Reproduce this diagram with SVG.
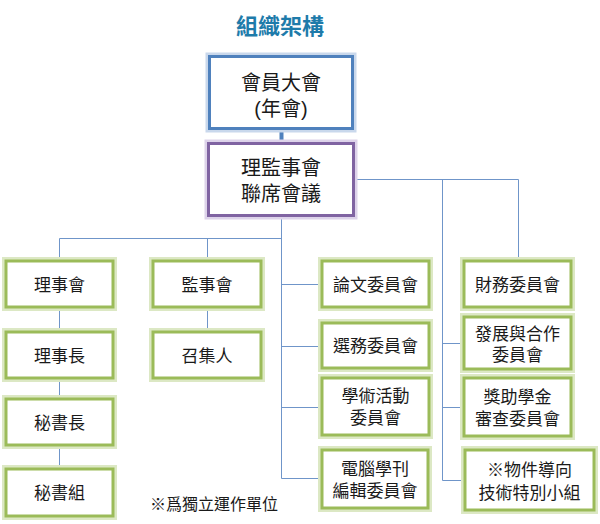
<svg xmlns="http://www.w3.org/2000/svg" width="600" height="524" viewBox="0 0 600 524">
<style>
.t{font-family:"Liberation Sans","Noto Sans CJK TC",sans-serif;fill:#1a1a1a;text-anchor:middle}
.g{font-size:17px}
.big{font-size:20px}
.box{fill:#fff;stroke-width:3}
.gb{stroke:#9BBB59}
.gh{fill:none;stroke:#dce8c4;stroke-width:3}
.conn{fill:none;stroke:#6F95C9;stroke-width:1}
</style>
<rect width="600" height="524" fill="#fff"/>
<text x="280" y="34" style="font-family:'Liberation Sans','Noto Sans CJK TC',sans-serif;font-size:22px;font-weight:bold;fill:#1E7BAA;text-anchor:middle">組織架構</text>
<g id="connectors">
<line x1="281.5" y1="129" x2="281.5" y2="143" stroke="#4F81BD" stroke-width="4"/>
<path class="conn" d="M281.5 216 V478.5 M59.5 238.5 H281.5 M59.5 238.5 V261 M59.5 307 V332 M59.5 378 V399 M59.5 445 V469 M207.5 238.5 V261 M207.5 307 V332 M281.5 284.5 H322 M281.5 346.5 H322 M281.5 407.5 H322 M281.5 478.5 H322 M354 179.5 H518.5 V261 M442.5 179.5 V480.5 M442.5 343.5 H464 M442.5 407.5 H464 M442.5 480.5 H465"/>
</g>
<g id="n-general">
<rect x="207" y="54" width="148" height="77" fill="none" stroke="#c9d8ec" stroke-width="3"/>
<rect class="box" x="209.5" y="56.5" width="143" height="72" stroke="#4F81BD"/>
<text class="t big" x="281" y="90">會員大會</text>
<text class="t big" x="281" y="116">(年會)</text>
</g>
<g id="n-joint">
<rect x="206" y="141" width="150" height="77" fill="none" stroke="#ddd3ea" stroke-width="3"/>
<rect class="box" x="208.5" y="143.5" width="145" height="72" stroke="#8064A2"/>
<text class="t big" x="281" y="175">理監事會</text>
<text class="t big" x="281" y="201">聯席會議</text>
</g>
<g id="n-board">
<rect class="gh" x="3.5" y="258.5" width="112" height="51"/>
<rect class="box gb" x="6" y="261" width="107" height="46"/>
<text class="t g" x="59.5" y="291">理事會</text>
</g>
<g id="n-chair">
<rect class="gh" x="3.5" y="329.5" width="112" height="51"/>
<rect class="box gb" x="6" y="332" width="107" height="46"/>
<text class="t g" x="59.5" y="362">理事長</text>
</g>
<g id="n-secgen">
<rect class="gh" x="3.5" y="396.5" width="112" height="51"/>
<rect class="box gb" x="6" y="399" width="107" height="46"/>
<text class="t g" x="59.5" y="429">秘書長</text>
</g>
<g id="n-secgroup">
<rect class="gh" x="3.5" y="466.5" width="112" height="52"/>
<rect class="box gb" x="6" y="469" width="107" height="47"/>
<text class="t g" x="59.5" y="499">秘書組</text>
</g>
<g id="n-supervisors">
<rect class="gh" x="150.5" y="258.5" width="113" height="51"/>
<rect class="box gb" x="153" y="261" width="108" height="46"/>
<text class="t g" x="207" y="291">監事會</text>
</g>
<g id="n-convener">
<rect class="gh" x="150.5" y="329.5" width="113" height="51"/>
<rect class="box gb" x="153" y="332" width="108" height="46"/>
<text class="t g" x="207" y="362">召集人</text>
</g>
<g id="n-paper">
<rect class="gh" x="319.5" y="258.5" width="112" height="51"/>
<rect class="box gb" x="322" y="261" width="107" height="46"/>
<text class="t g" x="375.5" y="291">論文委員會</text>
</g>
<g id="n-election">
<rect class="gh" x="319.5" y="320.5" width="112" height="50"/>
<rect class="box gb" x="322" y="323" width="107" height="45"/>
<text class="t g" x="375.5" y="352">選務委員會</text>
</g>
<g id="n-academic">
<rect class="gh" x="319.5" y="375.5" width="112" height="62"/>
<rect class="box gb" x="322" y="378" width="107" height="57"/>
<text class="t g" x="375.5" y="402">學術活動</text>
<text class="t g" x="375.5" y="424">委員會</text>
</g>
<g id="n-journal">
<rect class="gh" x="319.5" y="447.5" width="111" height="63"/>
<rect class="box gb" x="322" y="450" width="106" height="58"/>
<text class="t g" x="375" y="475">電腦學刊</text>
<text class="t g" x="375" y="497">編輯委員會</text>
</g>
<g id="n-finance">
<rect class="gh" x="461.5" y="258.5" width="112" height="51"/>
<rect class="box gb" x="464" y="261" width="107" height="46"/>
<text class="t g" x="517.5" y="291">財務委員會</text>
</g>
<g id="n-development">
<rect class="gh" x="461.5" y="314.5" width="112" height="57"/>
<rect class="box gb" x="464" y="317" width="107" height="52"/>
<text class="t g" x="517.5" y="340">發展與合作</text>
<text class="t g" x="517.5" y="361">委員會</text>
</g>
<g id="n-scholarship">
<rect class="gh" x="461.5" y="375.5" width="112" height="63"/>
<rect class="box gb" x="464" y="378" width="107" height="58"/>
<text class="t g" x="517.5" y="403">獎助學金</text>
<text class="t g" x="517.5" y="425">審查委員會</text>
</g>
<g id="n-oo">
<rect class="gh" x="462.5" y="447.5" width="134" height="65"/>
<rect class="box gb" x="465" y="450" width="129" height="60"/>
<text class="t g" x="529.5" y="476">※物件導向</text>
<text class="t g" x="529.5" y="499">技術特別小組</text>
</g>
<text x="150" y="510" style="font-family:'Liberation Sans','Noto Sans CJK TC',sans-serif;font-size:16px;fill:#1a1a1a">※爲獨立運作單位</text>
</svg>
